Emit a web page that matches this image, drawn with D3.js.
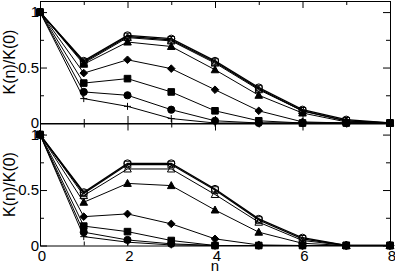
<!DOCTYPE html>
<html>
<head>
<meta charset="utf-8">
<script src="https://cdn.jsdelivr.net/npm/d3@7"></script>
<style>
  body { margin: 0; background: #fff; }
  svg { display: block; font-family: "Liberation Sans", Arial, sans-serif; }
</style>
</head>
<body>
<svg id="chart" width="395" height="273"></svg>
<script>
// n values shared by both panels
const nValues = [0, 1, 2, 3, 4, 5, 6, 7, 8];
const xTicks = [0, 2, 4, 6, 8];
const yTickLabels = ["0", "0.5", "1"];

// marker type of each series, top to bottom
const markers = ["openCircle", "openSquare", "openTriangle", "triangle", "diamond", "square", "circle", "plus"];

// upper panel K(n)/K(0)
const topOpenCircle   = [1, 0.56, 0.79, 0.76, 0.56, 0.32, 0.12, 0.03, 0];
const topOpenSquare   = [1, 0.55, 0.78, 0.75, 0.55, 0.31, 0.11, 0.02, 0];
const topOpenTriangle = [1, 0.54, 0.77, 0.74, 0.54, 0.30, 0.11, 0.02, 0];
const topTriangle     = [1, 0.53, 0.73, 0.69, 0.48, 0.25, 0.09, 0.01, 0];
const topDiamond      = [1, 0.45, 0.57, 0.49, 0.30, 0.11, 0.01, 0, 0];
const topSquare       = [1, 0.36, 0.40, 0.28, 0.11, 0.02, 0, 0, 0];
const topCircle       = [1, 0.28, 0.25, 0.12, 0.02, 0, 0, 0, 0];
const topPlus         = [1, 0.22, 0.15, 0.04, 0, 0, 0, 0, 0];

// lower panel K(n)/K(0)
const botOpenCircle   = [1, 0.48, 0.74, 0.74, 0.51, 0.24, 0.07, 0, 0];
const botOpenSquare   = [1, 0.47, 0.73, 0.73, 0.50, 0.23, 0.06, 0, 0];
const botOpenTriangle = [1, 0.45, 0.69, 0.69, 0.46, 0.21, 0.045, 0, 0];
const botTriangle     = [1, 0.39, 0.56, 0.54, 0.32, 0.12, 0.02, 0, 0];
const botDiamond      = [1, 0.26, 0.285, 0.195, 0.06, 0.005, 0, 0, 0];
const botSquare       = [1, 0.175, 0.125, 0.045, 0, 0, 0, 0, 0];
const botCircle       = [1, 0.12, 0.05, 0.015, 0, 0, 0, 0, 0];
const botPlus         = [1, 0.08, 0.03, 0.005, 0, 0, 0, 0, 0];

const topSeries = [topOpenCircle, topOpenSquare, topOpenTriangle, topTriangle, topDiamond, topSquare, topCircle, topPlus];
const botSeries = [botOpenCircle, botOpenSquare, botOpenTriangle, botTriangle, botDiamond, botSquare, botCircle, botPlus];

const svg = d3.select("#chart");
const left = 40, right = 390;

let x = d3.scaleLinear().domain([0, 8]).range([left, right]);

// marker shapes, drawn around 0,0
function markerPath(type) {
    let p = d3.path();
    if (type == "openCircle" || type == "circle") {
        p.arc(0, 0, 3.6, 0, 2 * Math.PI);
    } else if (type == "openSquare" || type == "square") {
        p.rect(-3.3, -3.3, 6.6, 6.6);
    } else if (type == "openTriangle" || type == "triangle") {
        p.moveTo(0, -4); p.lineTo(3.8, 3); p.lineTo(-3.8, 3); p.closePath();
    } else if (type == "diamond") {
        p.moveTo(0, -3.8); p.lineTo(3.8, 0); p.lineTo(0, 3.8); p.lineTo(-3.8, 0); p.closePath();
    } else {
        p.moveTo(-3.5, 0); p.lineTo(3.5, 0); p.moveTo(0, -3.5); p.lineTo(0, 3.5);
    }
    return p.toString();
}

function drawPanel(series, top, bottom, showXLabels) {
    let y = d3.scaleLinear().domain([0, 1.1]).range([bottom, top]);
    let g = svg.append("g");

    // axes with inward ticks on all four sides
    let major = 7, minor = 4;
    g.append("g").attr("transform", `translate(0,${bottom})`)
        .call(d3.axisTop(x).tickValues(d3.range(0, 9)).tickSize(0).tickFormat(""))
        .call(a => a.selectAll(".tick line").attr("y2", (d) => d % 2 == 0 ? -major : -minor).attr("stroke", "#000"));
    g.append("g").attr("transform", `translate(0,${top})`)
        .call(d3.axisBottom(x).tickValues(d3.range(0, 9)).tickSize(0).tickFormat(""))
        .call(a => a.selectAll(".tick line").attr("y2", (d) => d % 2 == 0 ? major : minor).attr("stroke", "#000"));
    g.append("g").attr("transform", `translate(${left},0)`)
        .call(d3.axisRight(y).tickValues([0, 0.25, 0.5, 0.75, 1]).tickSize(0).tickFormat(""))
        .call(a => a.selectAll(".tick line").attr("x2", (d) => d * 4 % 2 == 0 ? major : minor).attr("stroke", "#000"));
    g.append("g").attr("transform", `translate(${right},0)`)
        .call(d3.axisLeft(y).tickValues([0, 0.25, 0.5, 0.75, 1]).tickSize(0).tickFormat(""))
        .call(a => a.selectAll(".tick line").attr("x2", (d) => d * 4 % 2 == 0 ? -major : -minor).attr("stroke", "#000"));
    g.selectAll(".domain").attr("stroke", "#000").attr("stroke-width", 1);

    // y tick labels
    g.selectAll(".ylab").data([0, 0.5, 1]).enter().append("text")
        .attr("x", left - 1).attr("y", (d) => y(d) + 5)
        .attr("text-anchor", "end").attr("font-size", 15)
        .text((d, i) => yTickLabels[i]);

    // y axis title
    g.append("text")
        .attr("transform", `translate(15,${(top + bottom) / 2}) rotate(-90)`)
        .attr("text-anchor", "middle").attr("font-size", 16)
        .text("K(n)/K(0)");

    if (showXLabels) {
        g.selectAll(".xlab").data(xTicks).enter().append("text")
            .attr("x", (d) => x(d) + 2).attr("y", bottom + 15)
            .attr("text-anchor", "middle").attr("font-size", 15)
            .text((d) => d);
    }

    let line = d3.line().x((d, i) => x(nValues[i])).y((d) => y(d));

    series.forEach(function(vals, s) {
        g.append("path").datum(vals)
            .attr("d", line).attr("fill", "none")
            .attr("stroke", "#000").attr("stroke-width", s < 2 ? 1.3 : 1);

        let type = markers[s];
        let open = type.startsWith("open");
        g.selectAll(null).data(vals).enter().append("path")
            .attr("transform", (d, i) => `translate(${x(nValues[i])},${y(d)})`)
            .attr("d", markerPath(type))
            .attr("fill", (open || type == "plus") ? "#fff" : "#000")
            .attr("fill-opacity", open ? 0 : 1)
            .attr("stroke", "#000").attr("stroke-width", 1);
    });
}

drawPanel(topSeries, 1, 123, false);
drawPanel(botSeries, 123.5, 245.5, true);

// x axis title
svg.append("text").attr("x", x(4)).attr("y", 271)
    .attr("text-anchor", "middle").attr("font-size", 15)
    .text("n");
</script>
</body>
</html>
